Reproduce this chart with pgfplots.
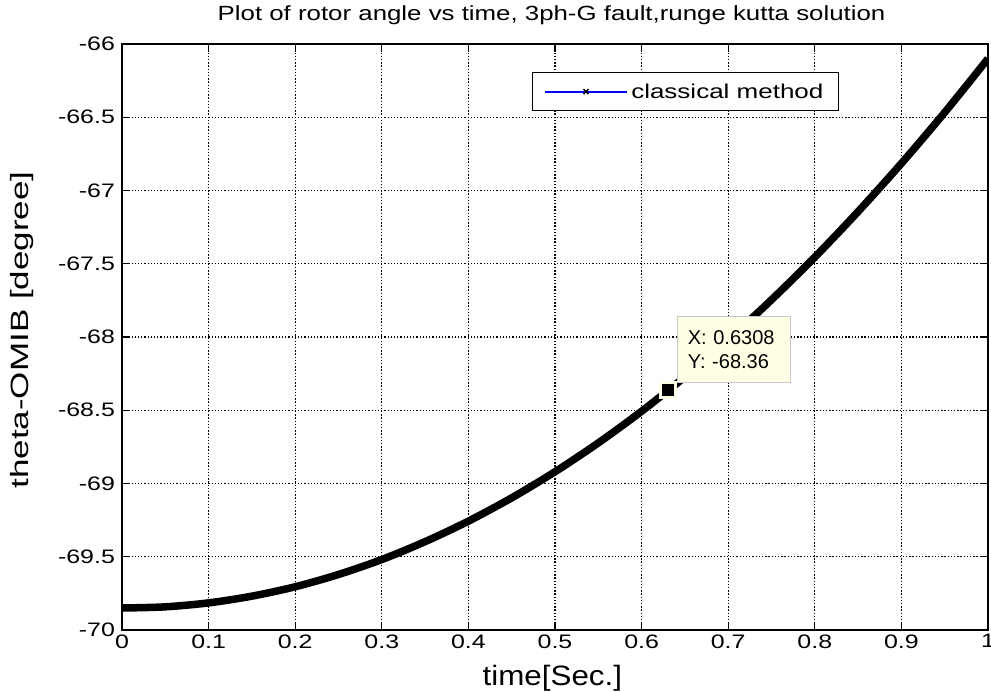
\documentclass[border=0pt]{standalone}
\usepackage{pgfplots}
\pgfplotsset{compat=1.18}
\usepackage{fontspec}
\setmainfont{Liberation Sans}
\definecolor{tipfill}{RGB}{255,255,229}
\definecolor{tipedge}{RGB}{200,200,200}
\definecolor{legblue}{RGB}{0,0,255}
\begin{document}
\begin{tikzpicture}
\useasboundingbox (-122pt,-62pt) rectangle (869pt,630pt);
\begin{axis}[
  at={(0pt,0pt)}, anchor=south west,
  scale only axis, width=866pt, height=586pt,
  xmin=0, xmax=1, ymin=-70, ymax=-66,
  xtick={0,0.1,0.2,0.3,0.4,0.5,0.6,0.7,0.8,0.9,1},
  xticklabels={0,0.1,0.2,0.3,0.4,0.5,0.6,0.7,0.8,0.9,1},
  ytick={-70,-69.5,-69,-68.5,-68,-67.5,-67,-66.5,-66},
  yticklabels={-70,-69.5,-69,-68.5,-68,-67.5,-67,-66.5,-66},
  tick align=inside, xtick pos=both, ytick pos=both,
  major tick length=8pt,
  grid=major,
  major grid style={black, line width=1.1pt, dash pattern=on 1.3pt off 1.9pt},
  axis line style={line width=1.4pt},
  every tick/.style={black, line width=1.3pt},
  tick label style={font=\fontsize{19.5}{19.5}\selectfont, xscale=1.28},
  xticklabel style={yshift=-1pt},
  yticklabel style={xshift=-2pt},
  title={Plot of rotor angle vs time, 3ph-G fault,runge kutta solution},
  title style={font=\fontsize{20.5}{20}\selectfont, xscale=1.26,
    at={(axis description cs:0.496,1)}, anchor=base, yshift=17pt},
  xlabel={time[Sec.]},
  xlabel style={font=\fontsize{28}{28}\selectfont, xscale=1.12,
    at={(axis description cs:0.497,0)}, anchor=base, yshift=-56pt},
  ylabel={\scalebox{1.4}[1]{theta-OMIB [degree]}},
  ylabel style={font=\fontsize{25}{25}\selectfont,
    at={(axis description cs:-0.1155,0.512)}, anchor=center, rotate=0},
  legend style={at={(axis description cs:0.4734,0.9522)}, anchor=north west,
    draw=black, line width=1.4pt, inner xsep=12pt, inner ysep=8pt,
    font=\fontsize{20}{20}\selectfont, nodes={inner sep=3pt}},
  legend cell align=left,
]
\addplot[black, line width=7.5pt, smooth,
  legend image code/.code={
  \draw[draw=legblue, line width=1.6pt] (0pt,0pt) -- (82pt,0pt);
  \draw[draw=black, line width=1.4pt] (38pt,-2.5pt) -- (43pt,2.5pt) (38pt,2.5pt) -- (43pt,-2.5pt);}]
  table {
x y
0.00 -69.850
0.05 -69.842
0.10 -69.815
0.15 -69.769
0.20 -69.705
0.25 -69.621
0.30 -69.519
0.35 -69.397
0.40 -69.257
0.45 -69.098
0.50 -68.920
0.55 -68.723
0.60 -68.507
0.65 -68.272
0.70 -68.019
0.75 -67.746
0.80 -67.455
0.85 -67.144
0.90 -66.815
0.95 -66.467
1.00 -66.100
};
\addlegendentry{\scalebox{1.3}[1]{classical method}}
\addplot[only marks, mark=square*, mark size=7.5pt,
  mark options={fill=black, draw=tipfill, line width=3pt}, forget plot]
  coordinates {(0.6308,-68.36)};
\node[draw=tipedge, fill=tipfill, line width=1pt, anchor=south west,
  text width=93pt, minimum height=66pt, align=left, inner xsep=10pt,
  font=\fontsize{20}{24}\selectfont, xshift=9pt, yshift=7pt]
  at (axis cs:0.6308,-68.36) {X: 0.6308\\Y: -68.36};
\end{axis}
\end{tikzpicture}
\end{document}
